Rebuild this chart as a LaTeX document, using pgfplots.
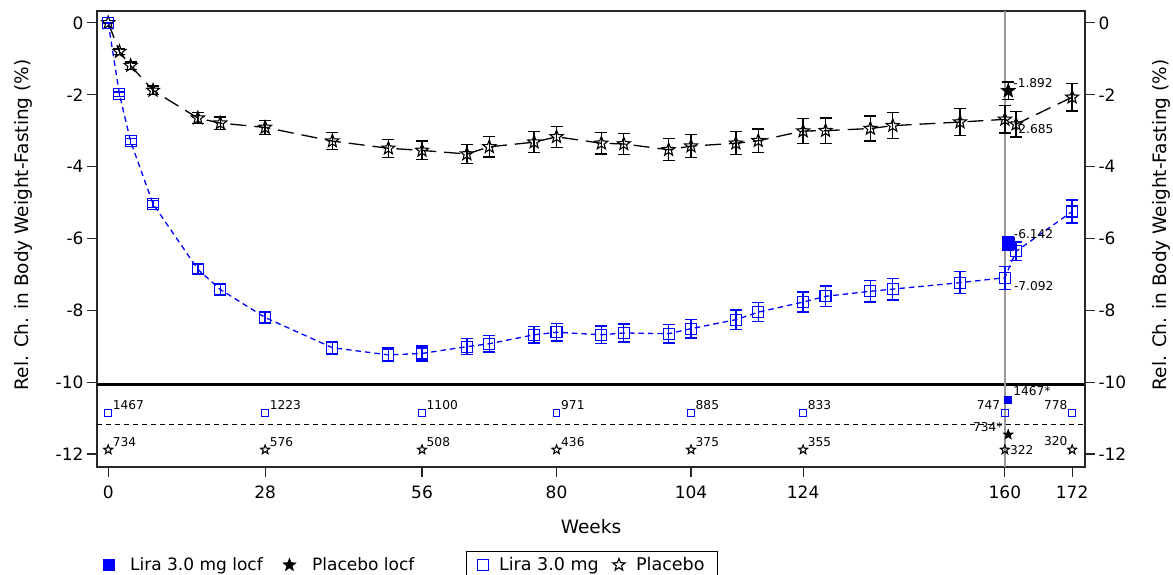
\documentclass[border=0pt]{standalone}
\usepackage{fontspec}
\setmainfont{DejaVu Sans}
\usepackage{pgfplots}
\pgfplotsset{compat=1.18}
\usepackage{pgfplotstable}

% five-pointed star marks: outline and filled
\pgfdeclareplotmark{ostar}{%
  \pgfpathmoveto{\pgfpointpolar{90}{\pgfplotmarksize}}%
  \pgfpathlineto{\pgfpointpolar{126}{0.42\pgfplotmarksize}}%
  \pgfpathlineto{\pgfpointpolar{162}{\pgfplotmarksize}}%
  \pgfpathlineto{\pgfpointpolar{198}{0.42\pgfplotmarksize}}%
  \pgfpathlineto{\pgfpointpolar{234}{\pgfplotmarksize}}%
  \pgfpathlineto{\pgfpointpolar{270}{0.42\pgfplotmarksize}}%
  \pgfpathlineto{\pgfpointpolar{306}{\pgfplotmarksize}}%
  \pgfpathlineto{\pgfpointpolar{342}{0.42\pgfplotmarksize}}%
  \pgfpathlineto{\pgfpointpolar{18}{\pgfplotmarksize}}%
  \pgfpathlineto{\pgfpointpolar{54}{0.42\pgfplotmarksize}}%
  \pgfpathclose
  \pgfusepathqstroke}
\pgfdeclareplotmark{fstar}{%
  \pgfpathmoveto{\pgfpointpolar{90}{\pgfplotmarksize}}%
  \pgfpathlineto{\pgfpointpolar{126}{0.42\pgfplotmarksize}}%
  \pgfpathlineto{\pgfpointpolar{162}{\pgfplotmarksize}}%
  \pgfpathlineto{\pgfpointpolar{198}{0.42\pgfplotmarksize}}%
  \pgfpathlineto{\pgfpointpolar{234}{\pgfplotmarksize}}%
  \pgfpathlineto{\pgfpointpolar{270}{0.42\pgfplotmarksize}}%
  \pgfpathlineto{\pgfpointpolar{306}{\pgfplotmarksize}}%
  \pgfpathlineto{\pgfpointpolar{342}{0.42\pgfplotmarksize}}%
  \pgfpathlineto{\pgfpointpolar{18}{\pgfplotmarksize}}%
  \pgfpathlineto{\pgfpointpolar{54}{0.42\pgfplotmarksize}}%
  \pgfpathclose
  \pgfusepathqfillstroke}

% mean relative change (%) and error bar half-widths by visit week
\pgfplotstableread{
week  lira    liraerr  plac    placerr
0     0       0        0       0
2     -1.98   0.06     -0.80   0.08
4     -3.30   0.08     -1.19   0.10
8     -5.04   0.10     -1.88   0.12
16    -6.86   0.13     -2.65   0.15
20    -7.42   0.14     -2.79   0.17
28    -8.20   0.16     -2.91   0.20
40    -9.04   0.18     -3.29   0.24
50    -9.24   0.19     -3.49   0.25
56    -9.20   0.21     -3.55   0.26
64    -9.01   0.22     -3.65   0.27
68    -8.93   0.23     -3.45   0.28
76    -8.68   0.23     -3.32   0.29
80    -8.61   0.24     -3.17   0.29
88    -8.68   0.24     -3.35   0.30
92    -8.63   0.25     -3.37   0.30
100   -8.65   0.26     -3.53   0.31
104   -8.51   0.26     -3.43   0.32
112   -8.26   0.27     -3.35   0.32
116   -8.05   0.27     -3.28   0.33
124   -7.77   0.28     -3.01   0.34
128   -7.61   0.29     -3.00   0.35
136   -7.47   0.30     -2.94   0.35
140   -7.41   0.30     -2.86   0.36
152   -7.23   0.31     -2.76   0.37
160   -7.092  0.32     -2.685  0.38
162   -6.36   0.26     -2.82   0.36
172   -5.25   0.32     -2.07   0.38
}\visits

% weeks at which subject counts are shown
\pgfplotstableread{
week  lirarow  placrow
0     -10.86   -11.88
28    -10.86   -11.88
56    -10.86   -11.88
80    -10.86   -11.88
104   -10.86   -11.88
124   -10.86   -11.88
160   -10.86   -11.88
172   -10.86   -11.88
}\countrows

\tikzset{cnt/.style={font=\fontsize{12.2}{14}\selectfont, inner sep=0pt}}
\pgfplotsset{
  frame/.style={
    at={(97pt,107pt)}, anchor=south west,
    scale only axis, width=988pt, height=456pt,
    xmin=-2, xmax=174.3, ymin=-12.36, ymax=0.33,
    axis line style={black!85, line width=1.6pt},
    tick align=outside, major tick length=10pt,
    tick style={black!85, line width=1.2pt},
    ytick={-12,-10,-8,-6,-4,-2,0},
    ticklabel style={font=\fontsize{17}{20}\selectfont},
    /pgf/number format/assume math mode=true,
    label style={font=\fontsize{18.5}{22}\selectfont},
  },
}

\begin{document}
\begin{tikzpicture}[x=1pt,y=1pt]
\path[use as bounding box] (0,0) rectangle (1173,574);
\begin{axis}[
  frame,
  xtick={0,28,56,80,104,124,160,172},
  xtick pos=left, ytick pos=left,
  xticklabel style={yshift=-5pt},
  xlabel={Weeks},
  ylabel={Rel. Ch. in Body Weight-Fasting (\%)},
  xlabel style={at={(axis description cs:0.5,-0.1316)}, anchor=center},
  ylabel style={at={(axis description cs:-0.0749,0.531)}, anchor=center},
  legend columns=-1,
  legend style={draw=black, line width=1pt,
    at={(axis description cs:0.3735,-0.1842)}, anchor=north west,
    font=\fontsize{17.5}{20}\selectfont, inner xsep=11pt, inner ysep=4pt,
    /tikz/every odd column/.append style={column sep=9pt},
    /tikz/every even column/.append style={column sep=12pt}},
]
% panel separators and end-of-treatment marker
\draw[black, line width=3pt] (axis cs:-2,-10.07) -- (axis cs:174.3,-10.07);
\draw[black, line width=1.2pt, dash pattern=on 5pt off 4pt] (axis cs:-2,-11.17) -- (axis cs:174.3,-11.17);
\draw[black!40, line width=1.5pt] (axis cs:160,-12.36) -- (axis cs:160,0.33);

% placebo
\addplot[forget plot, black, line width=1.3pt, dash pattern=on 16pt off 8pt,
  mark=ostar, mark size=6.8, mark options={solid, line width=1.1pt},
  error bars/.cd, y dir=both, y explicit,
  error bar style={solid, line width=1.3pt},
  error mark options={rotate=90, mark size=6pt, line width=1.3pt, solid}]
  table[x=week, y=plac, y error=placerr] {\visits};
% liraglutide 3.0 mg
\addplot[forget plot, blue, line width=1.3pt, dash pattern=on 5.5pt off 4pt,
  mark=square, mark size=5.5, mark options={solid, line width=1.1pt},
  error bars/.cd, y dir=both, y explicit,
  error bar style={solid, line width=1.3pt},
  error mark options={rotate=90, mark size=6pt, line width=1.3pt, solid}]
  table[x=week, y=lira, y error=liraerr] {\visits};

% subject counts rows
\addplot[forget plot, only marks, blue, mark=square, mark size=3.4, line width=1.1pt]
  table[x=week, y=lirarow] {\countrows};
\addplot[forget plot, only marks, black, mark=ostar, mark size=4.7, line width=1.1pt]
  table[x=week, y=placrow] {\countrows};

\node[cnt, anchor=south west, xshift=4.5pt, yshift=3pt] at (axis cs:0,-10.86) {1467};
\node[cnt, anchor=south west, xshift=4.5pt, yshift=3pt] at (axis cs:28,-10.86) {1223};
\node[cnt, anchor=south west, xshift=4.5pt, yshift=3pt] at (axis cs:56,-10.86) {1100};
\node[cnt, anchor=south west, xshift=4.5pt, yshift=3pt] at (axis cs:80,-10.86) {971};
\node[cnt, anchor=south west, xshift=4.5pt, yshift=3pt] at (axis cs:104,-10.86) {885};
\node[cnt, anchor=south west, xshift=4.5pt, yshift=3pt] at (axis cs:124,-10.86) {833};
\node[cnt, anchor=south east, xshift=-4.5pt, yshift=3pt] at (axis cs:160,-10.86) {747};
\node[cnt, anchor=south east, xshift=-4.5pt, yshift=3pt] at (axis cs:172,-10.86) {778};

\node[cnt, anchor=south west, xshift=4.5pt, yshift=3pt] at (axis cs:0,-11.88) {734};
\node[cnt, anchor=south west, xshift=4.5pt, yshift=3pt] at (axis cs:28,-11.88) {576};
\node[cnt, anchor=south west, xshift=4.5pt, yshift=3pt] at (axis cs:56,-11.88) {508};
\node[cnt, anchor=south west, xshift=4.5pt, yshift=3pt] at (axis cs:80,-11.88) {436};
\node[cnt, anchor=south west, xshift=4.5pt, yshift=3pt] at (axis cs:104,-11.88) {375};
\node[cnt, anchor=south west, xshift=4.5pt, yshift=3pt] at (axis cs:124,-11.88) {355};
\node[cnt, anchor=west, xshift=5pt] at (axis cs:160,-11.88) {322};
\node[cnt, anchor=south east, xshift=-4.5pt, yshift=4pt] at (axis cs:172,-11.88) {320};

% values at week 160
\node[cnt, anchor=north west, xshift=9pt, yshift=-5pt] at (axis cs:160,-2.685) {-2.685};
\node[cnt, anchor=north west, xshift=9pt, yshift=-4pt] at (axis cs:160,-7.092) {-7.092};

\addlegendimage{only marks, blue, mark=square, mark size=5.3, line width=1.1pt}
\addlegendentry{Lira 3.0 mg}
\addlegendimage{only marks, black, mark=ostar, mark size=6.5, line width=1.1pt}
\addlegendentry{Placebo}
\end{axis}

\begin{axis}[
  frame,
  hide x axis,
  axis y line*=right,
  ylabel={Rel. Ch. in Body Weight-Fasting (\%)},
  ylabel style={at={(axis description cs:1.0769,0.531)}, anchor=center},
  legend columns=-1,
  legend style={draw=none, fill=none,
    at={(axis description cs:0.004,-0.2149)}, anchor=west,
    font=\fontsize{17}{20}\selectfont, inner sep=2pt,
    /tikz/every odd column/.append style={column sep=14pt},
    /tikz/every even column/.append style={column sep=18pt}},
]
% last observation carried forward at week 160
\addplot[forget plot, only marks, blue, mark=square*, mark size=6, line width=1.1pt,
  error bars/.cd, y dir=both, y explicit,
  error bar style={line width=1.3pt},
  error mark options={rotate=90, mark size=6pt, line width=1.3pt}]
  coordinates {(160.6,-6.142) +- (0,0.2)};
\addplot[forget plot, only marks, black, mark=fstar, mark size=6.8, line width=1.1pt,
  error bars/.cd, y dir=both, y explicit,
  error bar style={line width=1.3pt},
  error mark options={rotate=90, mark size=6pt, line width=1.3pt}]
  coordinates {(160.6,-1.892) +- (0,0.25)};
\addplot[forget plot, only marks, blue, mark=square*, mark size=3.4, line width=1pt]
  coordinates {(160.6,-10.49)};
\addplot[forget plot, only marks, black, mark=fstar, mark size=4.7, line width=1pt]
  coordinates {(160.6,-11.46)};

\node[cnt, anchor=south west, xshift=5pt, yshift=3pt] at (axis cs:160.6,-1.892) {-1.892};
\node[cnt, anchor=south west, xshift=5.5pt, yshift=4.5pt] at (axis cs:160.6,-6.142) {-6.142};
\node[cnt, anchor=south west, xshift=5pt, yshift=4pt] at (axis cs:160.6,-10.49) {1467*};
\node[cnt, anchor=south east, xshift=-5.5pt, yshift=3pt] at (axis cs:160.6,-11.46) {734*};

\addlegendimage{only marks, blue, mark=square*, mark size=5.5}
\addlegendentry{Lira 3.0 mg locf}
\addlegendimage{only marks, black, mark=fstar, mark size=7}
\addlegendentry{Placebo locf}
\end{axis}
\end{tikzpicture}
\end{document}
